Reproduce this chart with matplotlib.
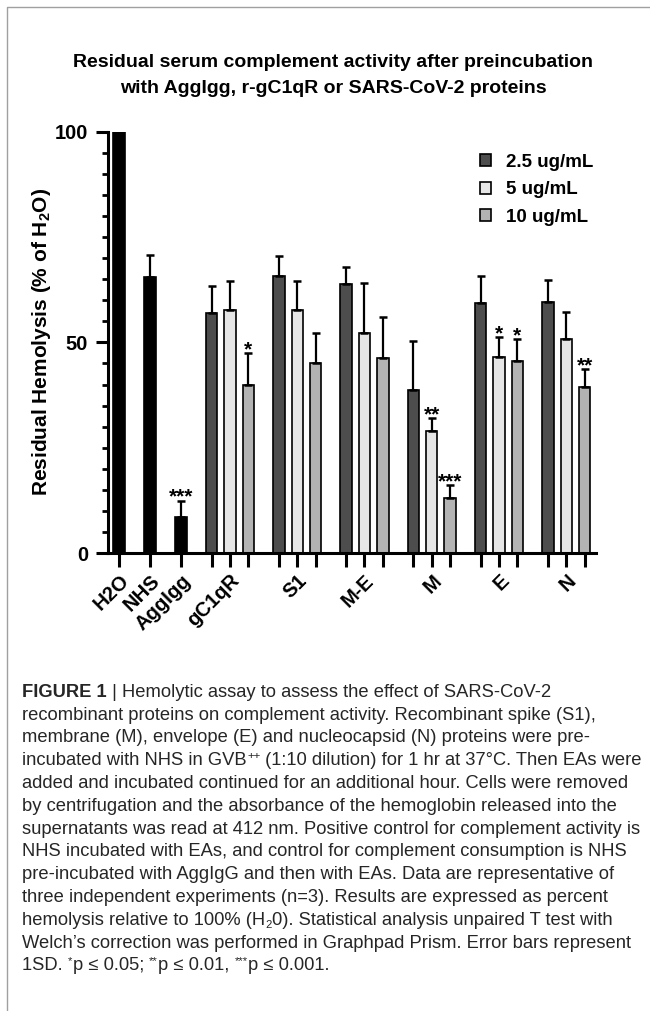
import numpy as np
import matplotlib
matplotlib.use("Agg")
import matplotlib.pyplot as plt
from matplotlib.lines import Line2D

plt.rcParams['font.family'] = ['Liberation Sans', 'DejaVu Sans']
plt.rcParams['mathtext.fontset'] = 'custom'
plt.rcParams['mathtext.rm'] = 'Liberation Sans'
plt.rcParams['mathtext.it'] = 'Liberation Sans:italic'
plt.rcParams['mathtext.bf'] = 'Liberation Sans:bold'

# controls (single bars)
single_labels = ["H2O", "NHS", "AggIgg"]
single_vals = [100, 65.5, 8.6]
single_err = [0, 5.3, 3.8]
single_sig = ["", "", "***"]

# protein groups, three concentrations each
groups = ["gC1qR", "S1", "M-E", "M", "E", "N"]
conc_labels = ["2.5 ug/mL", "5 ug/mL", "10 ug/mL"]
vals_25 = [57.0, 65.7, 63.8, 38.6, 59.3, 59.6]
err_25 = [6.5, 4.7, 4.0, 11.8, 6.5, 5.3]
vals_5 = [57.8, 57.8, 52.2, 29.0, 46.5, 50.8]
err_5 = [6.8, 6.8, 11.9, 3.0, 4.7, 6.4]
vals_10 = [39.8, 45.2, 46.3, 13.1, 45.5, 39.3]
err_10 = [7.6, 7.1, 9.7, 3.0, 5.2, 4.4]
sig_25 = ["", "", "", "", "", ""]
sig_5 = ["", "", "", "**", "*", ""]
sig_10 = ["*", "", "", "***", "*", "**"]

conc_colors = ["#4d4d4d", "#e6e6e6", "#b3b3b3"]

# caption lines as (text, style) segments: n normal, b bold, sup, sub
caption = [
    [("FIGURE 1", "b"), (" | Hemolytic assay to assess the effect of SARS-CoV-2", "n")],
    [("recombinant proteins on complement activity. Recombinant spike (S1),", "n")],
    [("membrane (M), envelope (E) and nucleocapsid (N) proteins were pre-", "n")],
    [("incubated with NHS in GVB", "n"), ("++", "sup"),
     (" (1:10 dilution) for 1 hr at 37°C. Then EAs were", "n")],
    [("added and incubated continued for an additional hour. Cells were removed", "n")],
    [("by centrifugation and the absorbance of the hemoglobin released into the", "n")],
    [("supernatants was read at 412 nm. Positive control for complement activity is", "n")],
    [("NHS incubated with EAs, and control for complement consumption is NHS", "n")],
    [("pre-incubated with AggIgG and then with EAs. Data are representative of", "n")],
    [("three independent experiments (n=3). Results are expressed as percent", "n")],
    [("hemolysis relative to 100% (H", "n"), ("2", "sub"),
     ("0). Statistical analysis unpaired T test with", "n")],
    [("Welch\u2019s correction was performed in Graphpad Prism. Error bars represent", "n")],
    [("1SD. ", "n"), ("*", "sup"), ("p \u2264 0.05; ", "n"), ("**", "sup"),
     ("p \u2264 0.01, ", "n"), ("***", "sup"), ("p \u2264 0.001.", "n")],
]

fig = plt.figure(figsize=(6.5, 10.11), dpi=100)
ax = fig.add_axes([0.1654, 0.453, 0.7516, 0.4167])

# x layout
single_x = np.arange(len(single_labels)) * 1.69
group_x = 5.05 + np.arange(len(groups)) * 3.67

bar_kw = dict(edgecolor="black", linewidth=1.2, zorder=2)
err_kw = dict(ecolor="black", elinewidth=1.6, capthick=1.8, capsize=3)
star_kw = dict(xytext=(0, -1.5), textcoords="offset points", ha="center",
               va="baseline", fontsize=15, fontweight="bold")

ax.bar(single_x, single_vals, width=0.67, color="black", **bar_kw)
ax.errorbar(single_x, single_vals, yerr=[np.zeros(3), single_err], fmt="none", **err_kw)
for x, val, er, st in zip(single_x, single_vals, single_err, single_sig):
    if st:
        ax.annotate(st, (x, val + er), **star_kw)

series = [(vals_25, err_25, sig_25), (vals_5, err_5, sig_5), (vals_10, err_10, sig_10)]
handles = []
for i, (v, e, s) in enumerate(series):
    xs = group_x + i
    b = ax.bar(xs, v, width=0.62, color=conc_colors[i], label=conc_labels[i], **bar_kw)
    handles.append(b)
    ax.errorbar(xs, v, yerr=[np.zeros(len(v)), e], fmt="none", **err_kw)
    for x, val, er, st in zip(xs, v, e, s):
        if st:
            ax.annotate(st, (x, val + er), **star_kw)

# axes styling
ax.set_xlim(-0.627, 26.02)
ax.set_ylim(0, 100)
for sp in ["top", "right"]:
    ax.spines[sp].set_visible(False)
for sp in ["left", "bottom"]:
    ax.spines[sp].set_linewidth(2.2)

all_x = list(single_x)
all_lab = list(single_labels)
for g, gx in zip(groups, group_x):
    all_x += [gx, gx + 1, gx + 2]
    all_lab += ["", g, ""]
ax.set_xticks(all_x)
ax.set_xticklabels(all_lab, rotation=45, ha="right", va="top", rotation_mode="anchor",
                   fontsize=14.5, fontweight="bold")
ax.tick_params(axis="x", length=10, width=2.2, pad=3)

ax.set_yticks([0, 50, 100])
ax.set_yticklabels(["0", "50", "100"], fontsize=14.5, fontweight="bold")
ax.set_yticks(np.arange(0, 101, 5), minor=True)
ax.tick_params(axis="y", which="major", length=8.6, width=2.2, pad=5.5)
ax.tick_params(axis="y", which="minor", length=4.3, width=2.0)

ax.set_ylabel("Residual Hemolysis (% of H$_\\mathbf{2}$O)", fontsize=15, fontweight="bold")
ax.yaxis.set_label_coords(-0.136, 0.5)
ax.yaxis.label.set_va("center")

ax.legend(handles=handles, loc="upper left", bbox_to_anchor=(480 / 650, 1 - 154 / 1011),
          bbox_transform=fig.transFigure, frameon=False,
          prop={"weight": "bold", "size": 13.5}, handlelength=0.6, handleheight=0.6,
          handletextpad=0.8, labelspacing=0.55, borderpad=0, borderaxespad=0)

# title
fig.text(333 / 650, 1 - 62.5 / 1011, "Residual serum complement activity after preincubation",
         ha="center", va="center", fontsize=14, fontweight="bold")
fig.text(333 / 650, 1 - 88.5 / 1011, "with AggIgg, r-gC1qR or SARS-CoV-2 proteins",
         ha="center", va="center", fontsize=14, fontweight="bold")

# caption, drawn segment by segment
cap_size = 13.2
renderer = fig.canvas.get_renderer()
W, H = fig.bbox.width, fig.bbox.height
for k, segs in enumerate(caption):
    base = 696.7 + k * 22.8
    xpx = 22.5
    for txt, style in segs:
        size, dy, weight = cap_size, 0, "normal"
        if style == "b":
            weight = "bold"
        elif style == "sup":
            size, dy = cap_size * 0.62, -6
        elif style == "sub":
            size, dy = cap_size * 0.62, 3
        t = fig.text(xpx / W, 1 - (base + dy) / H, txt, fontsize=size, fontweight=weight,
                     va="baseline", color="#262626")
        xpx = t.get_window_extent(renderer).x1

# frame lines
fig.add_artist(Line2D([7 / 650, 7 / 650, 1], [0, 1 - 6.5 / 1011, 1 - 6.5 / 1011],
                      transform=fig.transFigure, color="#a0a0a0", lw=1))

fig.savefig("out.png", dpi=100)
